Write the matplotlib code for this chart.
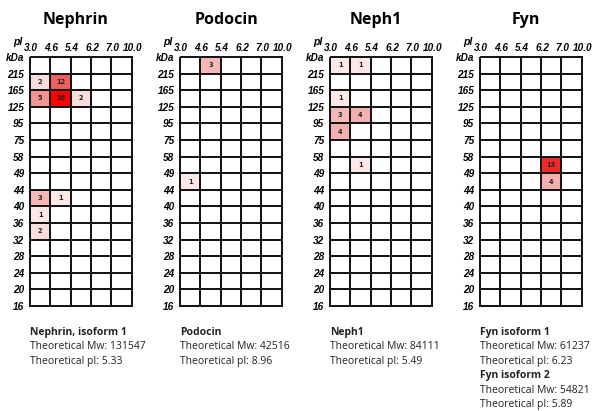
import matplotlib
matplotlib.use("Agg")
import matplotlib.pyplot as plt
import numpy as np
from matplotlib.colors import LinearSegmentedColormap

# axis labels of every 2D grid
pi_labels = ["3.0", "4.6", "5.4", "6.2", "7.0", "10.0"]
kda_labels = ["kDa", "215", "165", "125", "95", "75", "58", "49", "44",
              "40", "36", "32", "28", "24", "20", "16"]

titles = ["Nephrin", "Podocin", "Neph1", "Fyn"]

# spots: (row, column, number of spectra)
nephrin_spots = [(1, 0, 2), (1, 1, 12), (2, 0, 5), (2, 1, 16), (2, 2, 2),
                 (8, 0, 3), (8, 1, 1), (9, 0, 1), (10, 0, 2)]
podocin_spots = [(0, 1, 3), (7, 0, 1)]
neph1_spots = [(0, 0, 1), (0, 1, 1), (2, 0, 1), (3, 0, 3), (3, 1, 4),
               (4, 0, 4), (6, 1, 1)]
fyn_spots = [(6, 3, 13), (7, 3, 4)]
spots = [nephrin_spots, podocin_spots, neph1_spots, fyn_spots]

# text under each grid: (text, bold)
nephrin_info = [("Nephrin, isoform 1", True), ("Theoretical Mw: 131547", False),
                ("Theoretical pI: 5.33", False)]
podocin_info = [("Podocin", True), ("Theoretical Mw: 42516", False),
                ("Theoretical pI: 8.96", False)]
neph1_info = [("Neph1", True), ("Theoretical Mw: 84111", False),
              ("Theoretical pI: 5.49", False)]
fyn_info = [("Fyn isoform 1", True), ("Theoretical Mw: 61237", False),
            ("Theoretical pI: 6.23", False), ("Fyn isoform 2", True),
            ("Theoretical Mw: 54821", False), ("Theoretical pI: 5.89", False)]
infos = [nephrin_info, podocin_info, neph1_info, fyn_info]

W, H = 600, 411
cmap = LinearSegmentedColormap.from_list(
    "spots", [(0, "#ffffff"), (1 / 16, "#fde8e8"), (2 / 16, "#fadcdc"),
              (3 / 16, "#f5b8b8"), (4 / 16, "#f4b0b0"), (5 / 16, "#f29494"),
              (12 / 16, "#ee6262"), (13 / 16, "#f02a2a"), (1, "#ff0000")])

fig = plt.figure(figsize=(W / 100, H / 100), dpi=100)

nrow, ncol = len(kda_labels) - 1, len(pi_labels) - 1
for i, name in enumerate(titles):
    x0 = 150 * i
    ax = fig.add_axes([(x0 + 30) / W, 1 - 306 / H, 103 / W, 249 / H])
    grid = np.zeros((nrow, ncol))
    for r, c, n in spots[i]:
        grid[r, c] = n
    mesh = ax.pcolormesh(np.arange(ncol + 1), np.arange(nrow + 1), grid,
                         cmap=cmap, vmin=0, vmax=16, edgecolors="#151515",
                         linewidth=1.1)
    mesh.set_clip_on(False)
    for r, c, n in spots[i]:
        ax.text(c + 0.5, r + 0.5, str(n), ha="center", va="center",
                fontsize=4.8, fontweight="bold", color="#222222")
    ax.set_xlim(0, ncol)
    ax.set_ylim(nrow, 0)
    for s in ax.spines.values():
        s.set_visible(False)
    ax.xaxis.tick_top()
    ax.set_xticks(np.arange(ncol + 1) + 0.06)
    ax.set_xticklabels(pi_labels, fontsize=7.2, fontweight="bold",
                       fontstyle="italic", family="Liberation Sans")
    ax.set_yticks(np.arange(nrow + 1))
    ax.set_yticklabels(kda_labels, fontsize=7.2, fontweight="bold",
                       fontstyle="italic", family="Liberation Sans")
    ax.tick_params(length=0, pad=4)
    ax.tick_params(axis="x", pad=3)

    fig.text((x0 + 76) / W, 1 - 20 / H, name, ha="center", va="center",
             fontsize=11.5, fontweight="bold", family="Open Sans")
    fig.text((x0 + 18) / W, 1 - 42 / H, "pI", ha="center", va="center",
             fontsize=7.5, fontweight="bold", fontstyle="italic",
             family="Liberation Sans")
    for k, (txt, bold) in enumerate(infos[i]):
        fig.text((x0 + 30) / W, 1 - (332 + 14.5 * k) / H, txt, ha="left",
                 va="center", fontsize=7.5, family="Open Sans",
                 fontweight="bold" if bold else "normal", color="#222222")

fig.savefig("out.png", dpi=100)
